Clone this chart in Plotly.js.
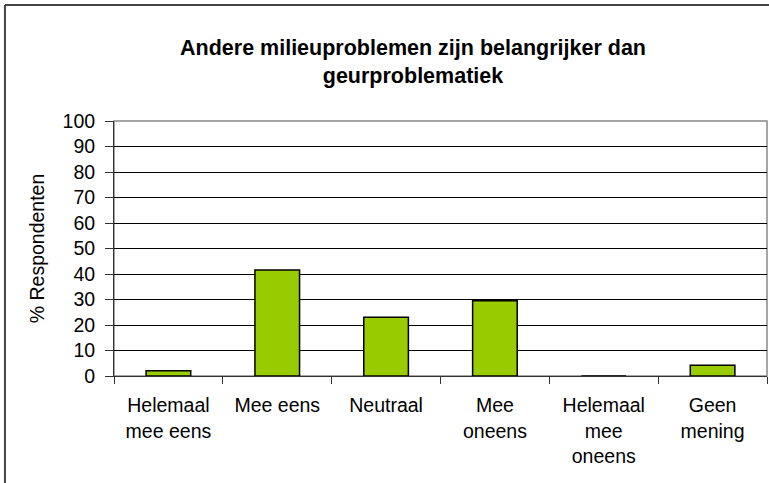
<!DOCTYPE html>
<html>
<head>
<meta charset="utf-8">
<script src="https://cdn.plot.ly/plotly-3.0.1.min.js"></script>
<style>html,body{margin:0;padding:0;background:#fff;}#chart{width:769px;height:483px;}</style>
</head>
<body>
<div id="chart"></div>
<script>
const categories = ["Helemaal<br>mee eens", "Mee eens", "Neutraal", "Mee<br>oneens", "Helemaal<br>mee<br>oneens", "Geen<br>mening"];
const values = [2.1, 41.6, 23.0, 29.5, 0, 4.2];
const titleText = "Andere milieuproblemen zijn belangrijker dan<br>geurproblematiek";
const yTitle = "% Respondenten";
const yTicks = [0, 10, 20, 30, 40, 50, 60, 70, 80, 90, 100];

const font = "Arial, 'Liberation Sans', sans-serif";
const L = 114, R = 766.7, T = 121, B = 376;
const pw = R - L, ph = B - T;
const px = v => (v - L) / pw;
const py = v => (B - v) / ph;

const data = [{
  type: 'bar',
  x: categories,
  y: values,
  width: 0.41,
  marker: {color: '#99CC00', line: {color: '#000', width: 1.5}},
  hoverinfo: 'none'
}];

const layout = {
  width: 769, height: 483,
  margin: {l: L, r: 769 - R, t: T, b: 483 - B, pad: 0},
  paper_bgcolor: '#fff', plot_bgcolor: '#fff',
  showlegend: false,
  font: {family: font, size: 19.5, color: '#000'},
  title: {text: titleText, font: {family: font, size: 21.5, color: '#000', weight: 'bold'},
          x: 413/769, xref: 'container', xanchor: 'center', y: 1 - 55/483, yref: 'container', yanchor: 'middle'},
  xaxis: {
    type: 'category', tickson: 'boundaries', ticks: 'outside', ticklen: 7, tickcolor: '#333', tickwidth: 1,
    showline: true, linecolor: '#333', linewidth: 1, showgrid: false, zeroline: false,
    tickfont: {family: font, size: 19.5, color: '#000'}, ticklabelstandoff: 12,
    automargin: false, fixedrange: true
  },
  yaxis: {
    range: [0, 100], tickvals: yTicks, ticktext: yTicks.map(String),
    ticks: 'outside', ticklen: 8, tickcolor: '#333', tickwidth: 1,
    showline: true, linecolor: '#333', linewidth: 1,
    showgrid: true, gridcolor: '#000', gridwidth: 1, zeroline: false,
    tickfont: {family: font, size: 19.5, color: '#000'}, ticklabelstandoff: 6,
    title: {text: yTitle, font: {family: font, size: 19.5, color: '#000'}, standoff: 12},
    automargin: false, fixedrange: true
  },
  shapes: [
    {type: 'rect', xref: 'paper', yref: 'paper', x0: 0, x1: 1, y0: 0, y1: 1,
     line: {color: '#888', width: 1.5}, fillcolor: 'rgba(0,0,0,0)', layer: 'below'},
    {type: 'line', xref: 'paper', yref: 'paper', x0: px(5), x1: px(5), y0: py(5), y1: py(490),
     line: {color: '#444', width: 2}},
    {type: 'line', xref: 'paper', yref: 'paper', x0: px(5), x1: px(780), y0: py(5), y1: py(5),
     line: {color: '#444', width: 2}}
  ]
};

Plotly.newPlot('chart', data, layout, {displayModeBar: false, staticPlot: true});
</script>
</body>
</html>
